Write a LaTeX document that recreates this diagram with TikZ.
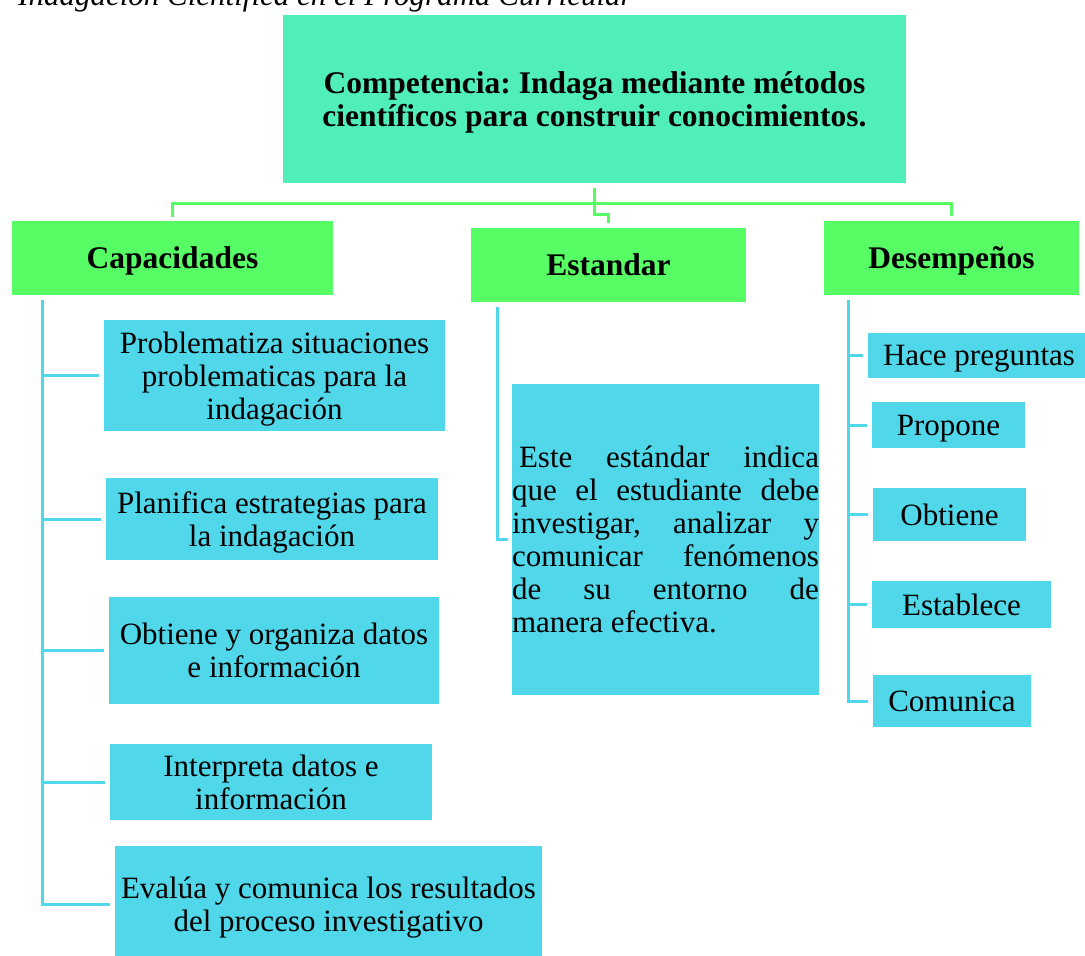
\documentclass[tikz,border=0pt]{standalone}
\usepackage{fontspec}
\setmainfont{Liberation Serif}
\usetikzlibrary{calc}
\definecolor{menta}{RGB}{80,239,186}
\definecolor{verde}{RGB}{87,253,101}
\definecolor{celeste}{RGB}{80,216,234}
\frenchspacing
% One justified line of the standard text
\newcommand{\lineajust}[1]{\makebox[307pt][s]{#1}}

\begin{document}
\begin{tikzpicture}[x=1pt,y=-1pt,
    caja/.style={inner sep=0pt, align=center, font=\fontsize{31}{33}\selectfont},
    titulo/.style={caja, fill=verde, text depth=0pt,
      font=\fontsize{31.5}{33}\selectfont\bfseries},
    item/.style={caja, fill=celeste, text depth=0pt},
    rama/.style={draw=verde, line width=3pt},
    enlace/.style={draw=celeste, line width=3pt}
  ]
  % Page size of the figure
  \useasboundingbox (0,0) rectangle (1085,956);
  \clip (0,0) rectangle (1085,956);

  % Caption line, cut at the top of the page
  \node[anchor=base west, inner sep=0pt, font=\fontsize{31}{33}\selectfont\itshape]
    (encabezado) at (18,5) {Indagación Científica en el Programa Curricular};

  % Competence and its three headings
  \node[titulo, fill=menta, minimum width=623pt, minimum height=168pt] (comp)
    at (594.5,99) {Competencia: Indaga mediante métodos\\científicos para construir conocimientos.};
  \node[titulo, minimum width=321pt, minimum height=74pt] (cap) at (172.5,258) {Capacidades};
  \node[titulo, minimum width=275pt, minimum height=74pt] (est) at (608.5,265) {Estandar};
  \node[titulo, minimum width=255pt, minimum height=74pt] (des) at (951.5,258) {Desempeños};

  % Green branches
  \coordinate (bif) at ($(comp.south)+(0,20)$);
  \draw[rama] ([yshift=-5pt]comp.south) -- (bif) -| ([yshift=4pt]cap.north);
  \draw[rama] (bif) -| ([yshift=5pt]des.north);
  \draw[rama] ([yshift=-5pt]comp.south) -- ++(0,26) -| ([yshift=5pt]est.north);

  % Capacidades
  \coordinate (capbase) at (42,300);
  \foreach \nombre/\cx/\cy/\ancho/\alto/\texto in {
      cap1/274.5/375.5/341pt/111pt/{Problematiza situaciones\\problematicas para la\\indagación},
      cap2/272/519/332pt/82pt/{Planifica estrategias para\\la indagación},
      cap3/274/650.5/330pt/107pt/{Obtiene y organiza datos\\e información},
      cap4/271/782/322pt/76pt/{Interpreta datos e\\información},
      cap5/328.5/904/427pt/116pt/{Evalúa y comunica los resultados\\del proceso investigativo}} {
    \node[item, minimum width=\ancho, minimum height=\alto] (\nombre) at (\cx,\cy) {\texto};
    \draw[enlace] (capbase) |- ([xshift=-5pt]\nombre.west);
  }

  % Estandar
  \coordinate (estbase) at (497,307);
  \node[caja, fill=celeste, text width=307pt, align=justify, minimum height=311pt] (estx)
    at (665.5,539.5)
    {\lineajust{\hspace*{7pt}Este estándar indica}\\
     \lineajust{que el estudiante debe}\\
     \lineajust{investigar, analizar y}\\
     \lineajust{comunicar fenómenos}\\
     \lineajust{de su entorno de}\\
     manera efectiva.};
  \draw[enlace] (estbase) |- ([xshift=-4pt]estx.west);

  % Desempeños
  \coordinate (desbase) at (848,300);
  \foreach \nombre/\cx/\cy/\ancho/\alto/\texto in {
      des1/979/355.5/222pt/45pt/{Hace preguntas},
      des2/948.5/425/153pt/46pt/{Propone},
      des3/949.5/514.5/153pt/53pt/{Obtiene},
      des4/961.5/604.5/179pt/47pt/{Establece},
      des5/952/701/158pt/52pt/{Comunica}} {
    \node[item, minimum width=\ancho, minimum height=\alto] (\nombre) at (\cx,\cy) {\texto};
    \draw[enlace] (desbase) |- ([xshift=-5pt]\nombre.west);
  }
\end{tikzpicture}
\end{document}
